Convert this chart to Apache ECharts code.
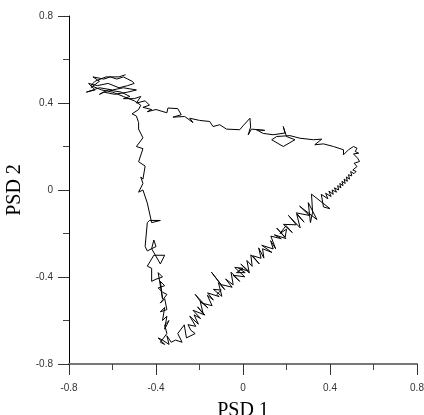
<!DOCTYPE html>
<html>
<head>
<meta charset="utf-8">
<script src="https://cdn.jsdelivr.net/npm/echarts@6/dist/echarts.min.js"></script>
<style>html,body{margin:0;padding:0;background:#fff;}#c{width:424px;height:415px;}</style>
</head>
<body>
<div id="c"></div>
<script>
// Axis settings
var axisMin = -0.8, axisMax = 0.8, axisStep = 0.4;
var xName = 'PSD 1';
var yName = 'PSD 2';

// Trajectory segments [PSD 1, PSD 2]
var topLeftCluster = [
  [-0.70,0.47],[-0.66,0.50],[-0.69,0.52],[-0.64,0.51],[-0.61,0.52],[-0.58,0.51],[-0.55,0.52],[-0.53,0.51],
  [-0.51,0.50],[-0.50,0.49],[-0.53,0.48],[-0.57,0.47],[-0.62,0.49],[-0.67,0.48],[-0.71,0.49],[-0.68,0.46],
  [-0.72,0.45],[-0.66,0.47],[-0.60,0.46],[-0.55,0.47],[-0.49,0.46],[-0.53,0.45],[-0.59,0.44],[-0.64,0.45],
  [-0.66,0.44],[-0.62,0.46],[-0.56,0.45],[-0.52,0.43],[-0.55,0.42],[-0.50,0.42],[-0.47,0.43],[-0.49,0.40],
  [-0.45,0.41],[-0.43,0.39],[-0.46,0.38],[-0.42,0.37],[-0.44,0.36],[-0.40,0.37]
];
var topEdge = [
  [-0.35,0.355],[-0.345,0.377],[-0.30,0.374],[-0.284,0.346],[-0.322,0.335],[-0.268,0.338],[-0.23,0.31],
  [-0.245,0.33],[-0.20,0.32],[-0.153,0.315],[-0.138,0.292],[-0.107,0.30],[-0.076,0.28],[-0.015,0.277],
  [0.0,0.295],[0.032,0.33],[0.035,0.29],[0.024,0.254],[0.039,0.28],[0.10,0.274],[0.062,0.277],[0.093,0.26],
  [0.139,0.254],[0.193,0.262],[0.185,0.292],[0.20,0.246],[0.239,0.231],[0.185,0.20],[0.132,0.231],
  [0.155,0.246],[0.216,0.25],[0.262,0.238],[0.324,0.231],[0.362,0.234],[0.33,0.208],[0.37,0.212],
  [0.416,0.20],[0.462,0.185],[0.462,0.162],[0.485,0.185]
];
var rightCorner = [
  [0.508,0.20],[0.524,0.192],[0.516,0.177],[0.532,0.169],[0.508,0.166],[0.527,0.146],[0.52,0.154],
  [0.536,0.131],[0.511,0.123],[0.524,0.108],[0.505,0.092],[0.52,0.085]
];
var diagonal = [
  [0.51,0.075],[0.495,0.085],[0.50,0.065],[0.485,0.07],[0.49,0.05],[0.475,0.06],[0.48,0.04],[0.465,0.05],
  [0.47,0.03],[0.455,0.04],[0.46,0.02],[0.445,0.03],[0.45,0.01],[0.435,0.02],[0.44,0.0],[0.42,0.01],
  [0.43,-0.01],[0.41,0.0],[0.415,-0.02],[0.395,-0.005],[0.405,-0.03],[0.38,-0.015],[0.39,-0.04],[0.36,-0.02],
  [0.37,-0.078],[0.40,-0.086],[0.315,-0.019],[0.32,-0.102],[0.31,-0.15],[0.30,-0.058],[0.34,-0.136],[0.26,-0.074],
  [0.305,-0.117],[0.245,-0.105],[0.281,-0.148],[0.247,-0.111],[0.263,-0.174],[0.209,-0.117],[0.245,-0.16],[0.186,-0.158],
  [0.227,-0.196],[0.198,-0.164],[0.17,-0.20],[0.20,-0.18],[0.194,-0.217],[0.155,-0.175],[0.197,-0.223],[0.144,-0.206],
  [0.176,-0.224],[0.128,-0.212],[0.15,-0.27],[0.127,-0.233],[0.139,-0.271],[0.086,-0.254],[0.133,-0.287],[0.09,-0.27],
  [0.096,-0.313],[0.072,-0.266],[0.083,-0.314],[0.044,-0.302],[0.075,-0.34],[0.036,-0.298],[0.042,-0.351],[0.018,-0.324],
  [0.029,-0.382],[-0.01,-0.34],[0.026,-0.373],[-0.02,-0.36],[0.01,-0.38],[-0.03,-0.38],[0.0,-0.36],[-0.038,-0.356],
  [0.008,-0.399],[-0.046,-0.392],[-0.015,-0.42],[-0.055,-0.378],[-0.045,-0.436],[-0.08,-0.409],[-0.05,-0.447],[-0.10,-0.435],
  [-0.145,-0.378],[-0.084,-0.458],[-0.113,-0.426],[-0.097,-0.489],[-0.136,-0.457],[-0.10,-0.46],[-0.12,-0.48],[-0.11,-0.49],
  [-0.163,-0.473],[-0.136,-0.506],[-0.164,-0.484],[-0.142,-0.532],[-0.19,-0.52],[-0.22,-0.48],[-0.161,-0.543],[-0.197,-0.511],
  [-0.183,-0.569],[-0.209,-0.537],[-0.175,-0.575],[-0.23,-0.553],[-0.195,-0.591],[-0.225,-0.574],[-0.205,-0.617],[-0.245,-0.58],
  [-0.217,-0.627],[-0.253,-0.619],[-0.24,-0.645]
];
var bottomAndLeft = [
  [-0.22,-0.66],[-0.26,-0.68],[-0.27,-0.62],[-0.30,-0.66],[-0.28,-0.70],[-0.31,-0.69],[-0.33,-0.70],
  [-0.35,-0.67],[-0.34,-0.71],[-0.37,-0.69],[-0.39,-0.68],[-0.36,-0.71],[-0.38,-0.70],[-0.35,-0.66],[-0.36,-0.62],
  [-0.34,-0.60],[-0.36,-0.64],[-0.35,-0.58],[-0.37,-0.60],[-0.36,-0.54],[-0.38,-0.56],[-0.35,-0.55],[-0.36,-0.50],
  [-0.38,-0.52],[-0.35,-0.48],[-0.37,-0.47],[-0.39,-0.45],[-0.36,-0.44],[-0.38,-0.42],[-0.37,-0.50],[-0.39,-0.38],
  [-0.37,-0.40],[-0.40,-0.41],[-0.42,-0.42],[-0.42,-0.36],[-0.44,-0.35],[-0.41,-0.30],[-0.36,-0.30],[-0.38,-0.34],
  [-0.42,-0.27],[-0.41,-0.23],[-0.40,-0.26],[-0.44,-0.28],[-0.45,-0.26],[-0.44,-0.15],[-0.43,-0.14],[-0.38,-0.14],
  [-0.42,-0.15],[-0.44,-0.06],[-0.46,0.0],[-0.48,-0.01],[-0.46,0.03],[-0.47,0.06],[-0.46,0.05],[-0.45,0.11],
  [-0.48,0.13],[-0.46,0.19],[-0.49,0.20],[-0.46,0.24],[-0.48,0.28],[-0.48,0.31],[-0.49,0.34],[-0.51,0.35],
  [-0.48,0.37],[-0.47,0.39]
];
var returnToCluster = [
  [-0.50,0.41],[-0.55,0.43],[-0.60,0.45],[-0.65,0.46],[-0.70,0.48],[-0.68,0.50],[-0.63,0.52],[-0.57,0.52],[-0.54,0.53]
];

var path = [].concat(topLeftCluster, topEdge, rightCorner, diagonal, bottomAndLeft, returnToCluster);

var chart = echarts.init(document.getElementById('c'), null, {renderer: 'canvas'});

function axisCommon(name) {
  return {
    type: 'value',
    min: axisMin, max: axisMax, interval: axisStep,
    name: name,
    nameLocation: 'middle',
    nameTextStyle: {fontFamily: 'Liberation Serif', fontSize: 20, color: '#000'},
    splitLine: {show: false},
    minorTick: {show: true, splitNumber: 2, length: 6, lineStyle: {color: '#444', width: 1}},
    axisTick: {show: true, length: 11, inside: false, lineStyle: {color: '#333', width: 1}},
    axisLabel: {fontFamily: 'Liberation Sans', fontSize: 10, color: '#333'}
  };
}

var xAxis = axisCommon(xName);
xAxis.nameGap = 37;
xAxis.axisLabel.margin = 19;
xAxis.axisLine = {show: true, onZero: false, lineStyle: {color: '#777', width: 2}};
var yAxis = axisCommon(yName);
yAxis.nameGap = 39;
yAxis.axisLabel.margin = 16;
yAxis.axisLine = {show: true, onZero: false, lineStyle: {color: '#000', width: 1}};

chart.setOption({
  animation: false,
  grid: {left: 69, right: 7, top: 16, bottom: 51, containLabel: false, outerBoundsMode: 'none'},
  xAxis: xAxis,
  yAxis: yAxis,
  series: [{
    type: 'line',
    data: path,
    showSymbol: false,
    symbol: 'none',
    lineStyle: {color: '#000', width: 1},
    smooth: false
  }]
});
</script>
</body>
</html>
